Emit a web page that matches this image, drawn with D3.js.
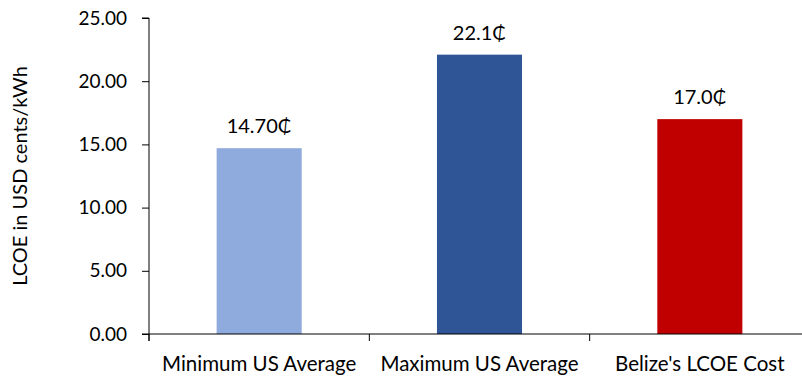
<!DOCTYPE html>
<html>
<head>
<meta charset="utf-8">
<script src="https://cdn.jsdelivr.net/npm/d3@7"></script>
<style>
  html, body { margin: 0; padding: 0; background: #fff; }
  svg text { font-family: Lato, "Open Sans", sans-serif; fill: #000; }
</style>
</head>
<body>
<svg id="chart" width="802" height="379"></svg>
<script>
// LCOE comparison, US cents per kWh
const categories = ["Minimum US Average", "Maximum US Average", "Belize's LCOE Cost"];
const values = [14.70, 22.1, 17.0];
const valueLabels = ["14.70\u20B5", "22.1\u20B5", "17.0\u20B5"];
const barColors = ["#8faadc", "#2f5597", "#c00000"];
const yTicks = [0, 5, 10, 15, 20, 25];
const yTitle = "LCOE in USD cents/kWh";

const svg = d3.select("#chart");
const plotLeft = 149, plotRight = 810, plotTop = 18, plotBottom = 334;

const x = d3.scaleBand()
  .domain(categories)
  .range([plotLeft, plotRight])
  .paddingInner(0.614)
  .paddingOuter(0.307);

const y = d3.scaleLinear().domain([0, 25]).range([plotBottom, plotTop]);

// bars
svg.append("g").selectAll("rect")
  .data(values)
  .join("rect")
  .attr("x", (d, i) => x(categories[i]))
  .attr("y", d => y(d))
  .attr("width", x.bandwidth())
  .attr("height", d => y(0) - y(d))
  .attr("fill", (d, i) => barColors[i]);

// value labels
svg.append("g").selectAll("text")
  .data(values)
  .join("text")
  .attr("x", (d, i) => x(categories[i]) + x.bandwidth() / 2)
  .attr("y", d => y(d) - 15)
  .attr("text-anchor", "middle")
  .style("font-size", "20px")
  .text((d, i) => valueLabels[i]);

// y axis
const yAxis = d3.axisLeft(y)
  .tickValues(yTicks)
  .tickFormat(d3.format(".2f"))
  .tickSize(7)
  .tickPadding(15);
const gy = svg.append("g")
  .attr("transform", `translate(${plotLeft},0)`)
  .call(yAxis);
gy.select(".domain").attr("stroke", "#000").attr("d", `M-7,${plotTop}H0V${plotBottom + 7}`);
gy.selectAll(".tick line").attr("stroke", "#000");
gy.selectAll(".tick text").style("font-size", "19px").attr("fill", "#000");

// x axis baseline and category boundary ticks
const step = x.step();
const bounds = categories.map(c => x(c) - step * x.paddingInner() / 2);
const gx = svg.append("g");
gx.append("line")
  .attr("x1", plotLeft - 7).attr("x2", 802)
  .attr("y1", y(0)).attr("y2", y(0))
  .attr("stroke", "#000");
gx.selectAll("line.tk")
  .data(bounds)
  .join("line")
  .attr("class", "tk")
  .attr("x1", d => d).attr("x2", d => d)
  .attr("y1", y(0)).attr("y2", y(0) + 7)
  .attr("stroke", "#000");
gx.selectAll("text")
  .data(categories)
  .join("text")
  .attr("x", c => x(c) + x.bandwidth() / 2)
  .attr("y", 371)
  .attr("text-anchor", "middle")
  .style("font-size", "20.5px")
  .text(c => c);

// y axis title
svg.append("text")
  .attr("transform", `translate(27,176) rotate(-90)`)
  .attr("text-anchor", "middle")
  .style("font-size", "20px")
  .text(yTitle);
</script>
</body>
</html>
